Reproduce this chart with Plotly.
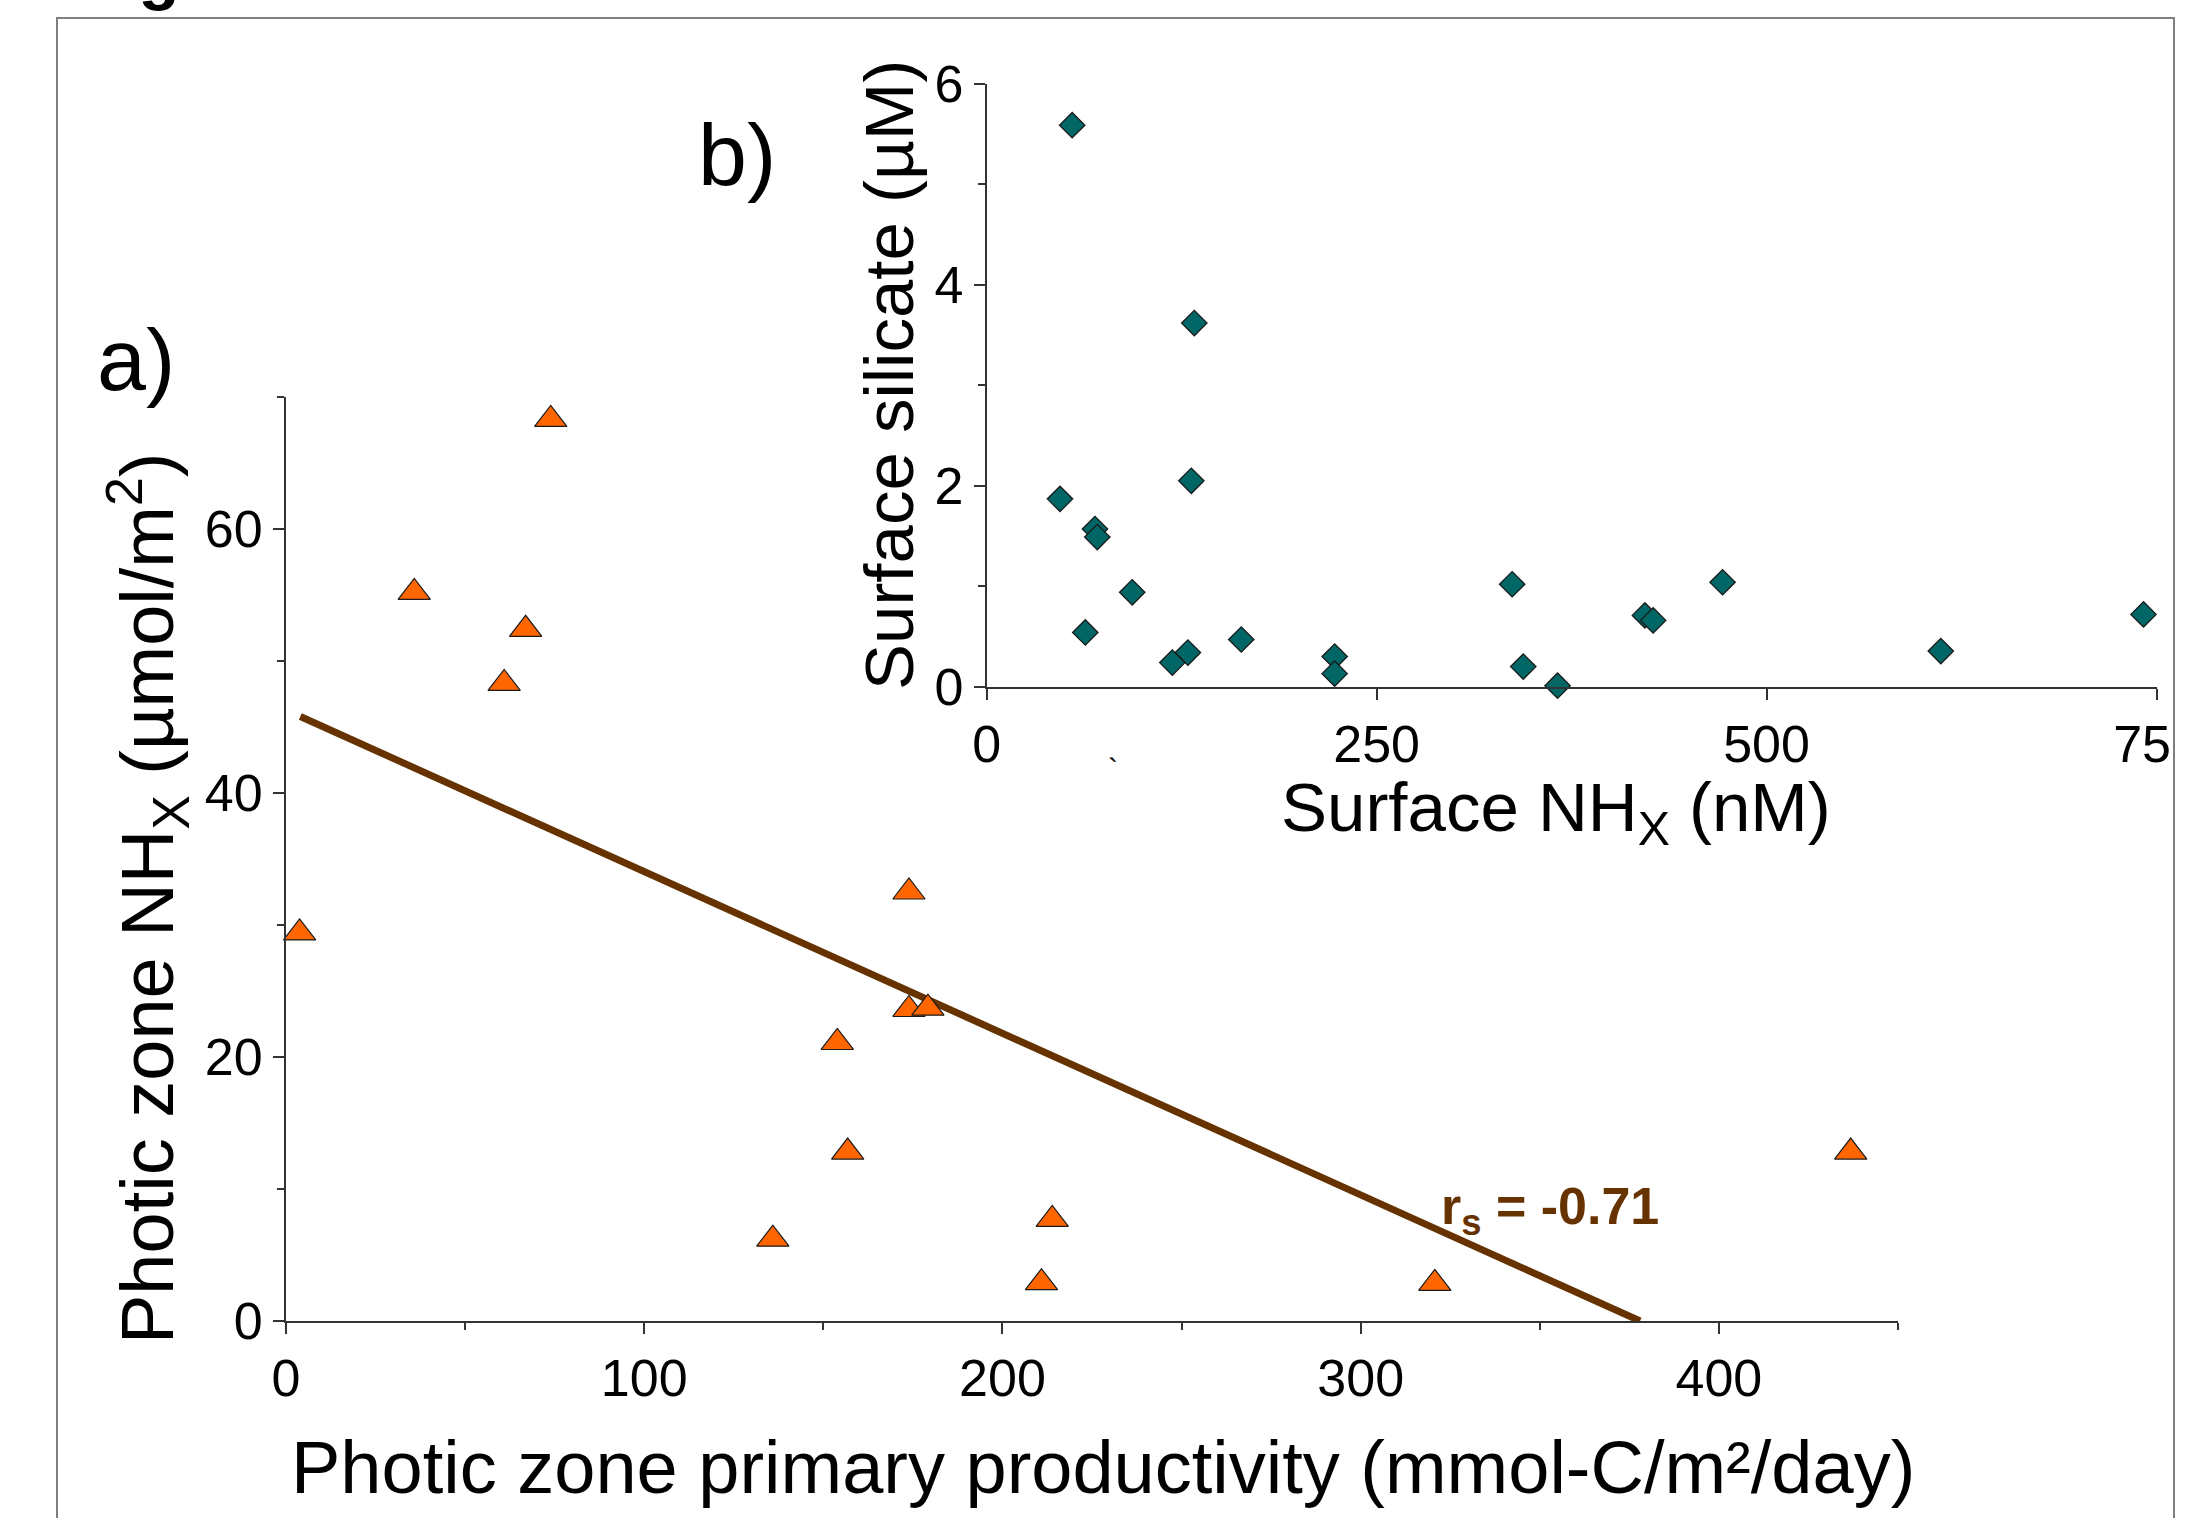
import plotly.graph_objects as go

W, H = 2196, 1518

# ---- data: panel a (photic zone) ----
pp_mmolC = [3.8, 35.8, 60.9, 66.9, 73.9, 135.9, 153.9, 156.8, 173.9, 173.9, 179.2, 210.9, 213.9, 320.7, 436.8]
nhx_photic = [29.4, 55.2, 48.3, 52.4, 68.3, 6.2, 21.1, 12.8, 32.5, 23.6, 23.7, 2.9, 7.7, 2.85, 12.8]
trend_x = [4, 378]
trend_y = [45.8, 0]
rs_label = "r<sub>s</sub> = -0.71"

# ---- data: panel b (surface) ----
surf_nhx = [54.8, 133.1, 131.2, 47.0, 69.4, 70.9, 93.3, 63.2, 119.0, 129.0, 163.2, 223.1, 223.1,
            336.9, 344.0, 366.0, 422.0, 427.3, 471.8, 611.7, 741.7]
surf_si = [5.59, 3.62, 2.05, 1.87, 1.57, 1.49, 0.94, 0.54, 0.24, 0.34, 0.47, 0.30, 0.13,
           1.02, 0.20, 0.01, 0.71, 0.66, 1.04, 0.355, 0.72]

a_xticks = [0, 100, 200, 300, 400]
a_yticks = [0, 20, 40, 60]
b_xticks = [0, 250, 500, 750]
b_yticks = [0, 2, 4, 6]

FONT = "Liberation Sans, Arial, Helvetica, sans-serif"
AXC = "#333333"


def px(x):
    return x / W


def py(y):
    return 1 - y / H


fig = go.Figure()

fig.add_trace(go.Scatter(
    x=trend_x, y=trend_y, mode="lines", xaxis="x", yaxis="y",
    line=dict(color="#663300", width=7), showlegend=False, hoverinfo="skip"))

fig.add_trace(go.Scatter(
    x=pp_mmolC, y=nhx_photic, mode="markers", xaxis="x", yaxis="y", cliponaxis=False,
    marker=dict(symbol="triangle-up", size=28, color="#FF6600",
                line=dict(color="#1a1a1a", width=1.2)),
    showlegend=False))

fig.add_trace(go.Scatter(
    x=surf_nhx, y=surf_si, mode="markers", xaxis="x2", yaxis="y2", cliponaxis=False,
    marker=dict(symbol="diamond", size=19.5, color="#006666",
                line=dict(color="#1a1a1a", width=1.3)),
    showlegend=False))

axis_common = dict(showline=True, linecolor=AXC, linewidth=2, showgrid=False, zeroline=False,
                   automargin=False, ticklabeloverflow="allow",
                   ticks="outside", ticklen=11, tickwidth=2, tickcolor=AXC,
                   tickfont=dict(family=FONT, size=52, color="black"))

fig.update_layout(
    template="none",
    width=W, height=H, autosize=False,
    margin=dict(l=0, r=0, t=0, b=0, pad=0),
    paper_bgcolor="white", plot_bgcolor="rgba(0,0,0,0)",
    font=dict(family=FONT, color="black"),
    xaxis=dict(domain=[px(286), px(1898)], range=[0, 450], tickvals=a_xticks, anchor="y",
               minor=dict(dtick=50, tick0=0, ticks="outside", ticklen=7, tickwidth=2, tickcolor=AXC),
               **axis_common),
    yaxis=dict(domain=[py(1321), py(397)], range=[0, 70], tickvals=a_yticks, anchor="x",
               minor=dict(dtick=10, tick0=0, ticks="outside", ticklen=7, tickwidth=2, tickcolor=AXC),
               **axis_common),
    xaxis2=dict(domain=[px(986.7), px(2156.5)], range=[0, 750], tickvals=b_xticks, anchor="y2",
                **axis_common),
    yaxis2=dict(domain=[py(686.7), py(84)], range=[0, 6], tickvals=b_yticks, anchor="x2",
                minor=dict(dtick=1, tick0=0, ticks="outside", ticklen=7, tickwidth=2, tickcolor=AXC),
                **axis_common),
)

ann = []


def add_text(text, x, y, size, angle=0, color="black", bold=False, xanchor="center", yanchor="middle"):
    t = f"<b>{text}</b>" if bold else text
    ann.append(dict(text=t, x=px(x), y=py(y), xref="paper", yref="paper", showarrow=False,
                    xanchor=xanchor, yanchor=yanchor, textangle=angle,
                    font=dict(family=FONT, size=size, color=color)))


add_text("a)", 136, 359, 88)
add_text("b)", 737, 154, 88)
add_text("Photic zone NH<sub>X</sub> (µmol/m<sup>2</sup>)", 147, 899, 74, angle=-90)
add_text("Photic zone primary productivity (mmol-C/m²/day)", 1103, 1467, 74)
add_text("Surface silicate (µM)", 889, 375, 69, angle=-90)
add_text("Surface NH<sub>X</sub> (nM)", 1556, 812, 69)
add_text(rs_label, 1550, 1210, 52, color="#663300", bold=True)
add_text("`", 1113, 768, 30)
add_text("Fig", 77, 13, 67, bold=True, xanchor="left", yanchor="bottom")

fig.update_layout(annotations=ann)

# white cover at right edge (clips the "750" label like the source) and the outer frame
fig.add_shape(type="rect", xref="paper", yref="paper", x0=px(2175), x1=1.02, y0=-0.05, y1=1.05,
              fillcolor="white", line=dict(width=0), layer="above")
fig.add_shape(type="rect", xref="paper", yref="paper", x0=px(57), x1=px(2174), y0=-0.1, y1=py(18),
              fillcolor="rgba(0,0,0,0)", line=dict(color="#7f7f7f", width=2), layer="above")

fig.write_html("out.html")
